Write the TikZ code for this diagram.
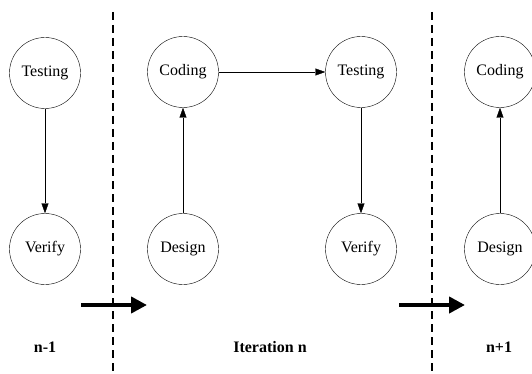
\documentclass[tikz,border=0pt]{standalone}
\usepackage{fontspec}
\setmainfont{Liberation Serif}
\usetikzlibrary{arrows.meta}

\begin{document}
\begin{tikzpicture}[x=1pt,y=-1pt,
		phase/.style={draw, circle, minimum size=71pt, inner sep=0pt, font=\fontsize{16}{19}\selectfont},
		flow/.style={-{Triangle[length=10pt,width=7pt]}},
		bigarrow/.style={line width=4pt, -{Triangle[length=16pt,width=16pt]}},
		sep/.style={dash pattern=on 8pt off 5pt, line width=1.2pt},
		iter/.style={font=\bfseries\fontsize{16}{19}\selectfont}]
		\useasboundingbox (0,0) rectangle (532,374);
		% Iteration boundaries
		\coordinate (sepA top) at (113,12);
		\coordinate (sepA bot) at (113,374);
		\coordinate (sepB top) at (432,12);
		\coordinate (sepB bot) at (432,374);
		\draw[sep] (sepA top) -- (sepA bot);
		\draw[sep] (sepB top) -- (sepB bot);
		
		% Iteration n-1
		\node[phase] (test0) at (45,73) {Testing};
		\node[phase] (verify0) at (45,249) {Verify};
		\draw[flow] (test0) -- (verify0);
		
		% Iteration n
		\node[phase] (code1) at (183,72) {Coding};
		\node[phase] (design1) at (183,249) {Design};
		\node[phase] (test1) at (361,72) {Testing};
		\node[phase] (verify1) at (361,249) {Verify};
		\draw[flow] (design1) -- (code1);
		\draw[flow] (code1) -- (test1);
		\draw[flow] (test1) -- (verify1);
		
		% Iteration n+1
		\node[phase] (code2) at (500,72) {Coding};
		\node[phase] (design2) at (500,249) {Design};
		\draw[flow] (design2) -- (code2);
		
		% Transitions
		\coordinate (goA from) at (81,305);
		\coordinate (goA to) at (147,305);
		\coordinate (goB from) at (399,305);
		\coordinate (goB to) at (465,305);
		\draw[bigarrow] (goA from) -- (goA to);
		\draw[bigarrow] (goB from) -- (goB to);
		
		% Labels
		\node[iter] (lblprev) at (45,347) {n-1};
		\node[iter] (lblcur) at (270,347) {Iteration n};
		\node[iter] (lblnext) at (499,347) {n+1};
	\end{tikzpicture}
\end{document}
